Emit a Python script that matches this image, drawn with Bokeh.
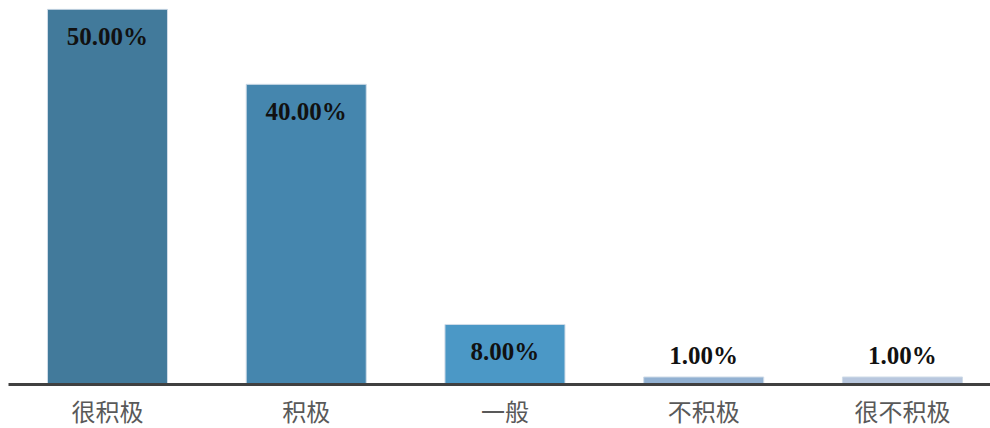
from bokeh.plotting import figure
from bokeh.models import ColumnDataSource, Range1d, FixedTicker
from bokeh.core.properties import value
from bokeh.embed import file_html
from bokeh.resources import INLINE

categories = ["很积极", "积极", "一般", "不积极", "很不积极"]
values = [50.0, 40.0, 8.0, 1.0, 1.0]
labels = ["50.00%", "40.00%", "8.00%", "1.00%", "1.00%"]
colors = ["#427a9b", "#4586ae", "#4b98c6", "#92b1d2", "#b8c7de"]

xs = list(range(len(categories)))
offsets = [27 if v >= 5 else -21 for v in values]

src = ColumnDataSource(dict(x=xs, top=values, label=labels, color=colors, off=offsets))

p = figure(width=990, height=428, output_backend="svg", toolbar_location=None,
           x_range=Range1d(-0.498, 4.443), y_range=Range1d(0, 50.1),
           min_border_left=8, min_border_right=0, min_border_top=8, min_border_bottom=0)

p.vbar(x="x", top="top", bottom=0, width=0.604, fill_color="color",
       line_color="#d0dce8", line_width=1, source=src)

p.text(x="x", y="top", text="label", y_offset="off", source=src,
       text_align="center", text_baseline="alphabetic",
       text_font=value("Liberation Serif"), text_font_style="bold",
       text_font_size="25px", text_color="#111111")

p.yaxis.visible = False
p.xgrid.visible = False
p.ygrid.visible = False
p.outline_line_color = None
p.background_fill_color = "white"
p.border_fill_color = "white"

xa = p.xaxis[0]
xa.ticker = FixedTicker(ticks=xs)
xa.major_label_overrides = {i: c for i, c in zip(xs, categories)}
xa.major_tick_line_color = None
xa.minor_tick_line_color = None
xa.axis_line_color = "#404040"
xa.axis_line_width = 3
xa.major_label_text_font = "Liberation Sans, Noto Sans CJK SC"
xa.major_label_text_font_size = "24px"
xa.major_label_text_color = "#595959"
xa.major_label_standoff = 8

open("out.html", "w").write(file_html(p, INLINE))
